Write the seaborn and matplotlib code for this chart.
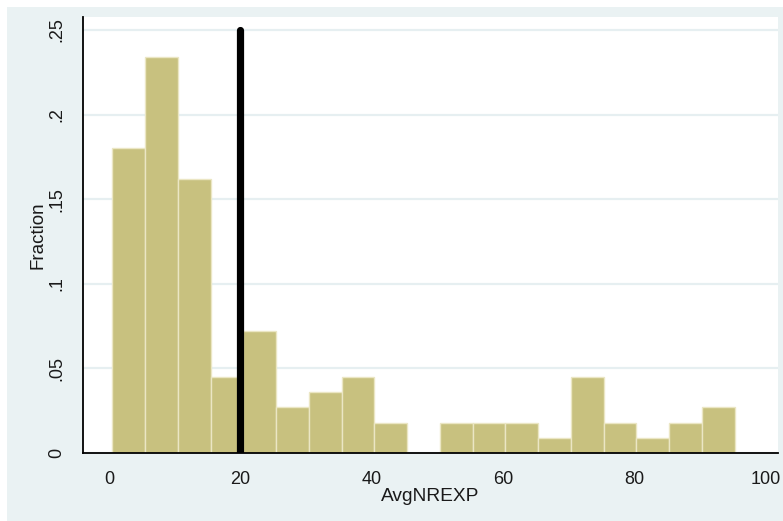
import numpy as np
import pandas as pd
import matplotlib
matplotlib.use("Agg")
import matplotlib.pyplot as plt
import seaborn as sns
from matplotlib.patches import Rectangle

# Histogram of AvgNREXP: 19 bins, counts out of 111 observations
bin_start = 0.5
bin_width = 4.985
counts = [20, 26, 18, 5, 8, 3, 4, 5, 2, 0, 2, 2, 2, 1, 5, 2, 1, 2, 3]
n_obs = 111
cutoff = 20

y_ticks = [0, 0.05, 0.10, 0.15, 0.20, 0.25]
y_tick_labels = ["0", ".05", ".1", ".15", ".2", ".25"]
x_ticks = [0, 20, 40, 60, 80, 100]
x_tick_labels = ["0", "20", "40", "60", "80", "100"]

bin_end = bin_start + bin_width * len(counts)
centers = bin_start + bin_width * (np.arange(len(counts)) + 0.5)
df = pd.DataFrame({"AvgNREXP": centers, "Fraction": np.array(counts) / n_obs})

sns.set_style("white")
plt.rcParams["font.family"] = ["Liberation Sans", "DejaVu Sans"]

W, H = 783, 521
fig = plt.figure(figsize=(W / 100, H / 100), dpi=100)
fig.patch.set_facecolor("white")
fig.add_artist(Rectangle((7 / W, 0), 1 - 7 / W, (H - 7) / H,
                         transform=fig.transFigure, facecolor="#eaf2f3",
                         edgecolor="none", zorder=0))

ax = fig.add_axes([83 / W, (H - 453) / H, (778 - 83) / W, (453 - 17) / H])
ax.set_facecolor("white")

sns.histplot(data=df, x="AvgNREXP", weights="Fraction",
             binwidth=bin_width, binrange=(bin_start, bin_end),
             stat="count", color="#c8c17f", edgecolor="#ebe6c4",
             linewidth=1.0, alpha=1.0, ax=ax, zorder=2)

ax.plot([cutoff, cutoff], [0, 0.25], color="black", linewidth=5.2,
        solid_capstyle="round", zorder=3)

ax.set_xlim(-3.96, 101.8)
ax.set_ylim(0, 0.2577)

for yv in y_ticks:
    ax.axhline(yv, color="#e6eff1", linewidth=1.6, zorder=1)

ax.set_yticks(y_ticks)
ax.set_yticklabels(y_tick_labels, rotation=90, va="center", fontsize=13)
ax.set_xticks(x_ticks)
ax.set_xticklabels(x_tick_labels, fontsize=13)
ax.tick_params(axis="both", direction="out", length=7, width=1.2,
               color="black", labelcolor="#1a1a1a")
ax.tick_params(axis="y", pad=6)
ax.tick_params(axis="x", pad=6)

for side in ["top", "right"]:
    ax.spines[side].set_visible(False)
for side in ["left", "bottom"]:
    ax.spines[side].set_color("black")
    ax.spines[side].set_linewidth(1.3)

ax.set_xlabel("AvgNREXP", fontsize=13.8, color="#1a1a1a", labelpad=0)
ax.set_ylabel("Fraction", fontsize=13.5, color="#1a1a1a", labelpad=1)

fig.savefig("out.png", dpi=100)
